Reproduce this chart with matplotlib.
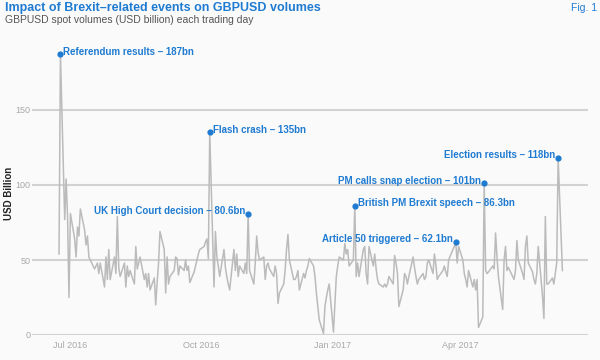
import pandas as pd
import matplotlib
matplotlib.use('Agg')
import matplotlib.pyplot as plt
import matplotlib.dates as mdates

FIRST_DAY = '2016-06-23'

# GBPUSD spot volume, USD bn, one value per trading day
volumes = [
    54, 187,
    # 27 Jun - 6 Oct 2016
    77, 104, 79, 25, 81, 64, 52, 72, 66, 84,
    70, 60, 66, 52, 50, 44, 46, 48, 41, 48,
    32, 52, 37, 57, 37, 52, 41, 79, 45, 39,
    48, 32, 46, 39, 43, 34, 59, 44, 48, 52,
    37, 41, 32, 41, 30, 38, 20, 35, 48, 69,
    57, 28, 52, 34, 39, 43, 52, 51, 40, 46,
    43, 50, 43, 46, 35, 42, 46, 50, 54, 57,
    59, 62, 64, 51,
    135,
    # 10 Oct - 2 Nov
    32, 69, 52, 46, 39, 57, 45, 39, 34, 30,
    57, 43, 54, 39, 46, 41, 48, 41,
    80.6,
    # 4 Nov - 16 Jan 2017
    43, 34, 48, 66, 55, 50, 52, 37, 46, 48,
    44, 39, 46, 41, 21, 28, 34, 43, 57, 67,
    50, 37, 37, 39, 43, 30, 41, 38, 43, 46,
    51, 46, 39, 28, 19, 10, 1, 19, 25, 30,
    34, 2, 21, 39, 46, 52, 50, 61, 54, 57,
    46, 50,
    86.3,
    # 18 Jan - 28 Mar
    39, 48, 39, 57, 59, 41, 34, 59, 46, 54,
    44, 37, 34, 32, 34, 32, 34, 39, 34, 53,
    48, 41, 19, 30, 41, 39, 34, 39, 52, 45,
    39, 34, 37, 41, 37, 39, 48, 50, 41, 54,
    47, 37, 39, 43, 46, 42, 39, 50, 57, 59,
    62.1,
    # 30 Mar - 17 Apr
    48, 59, 50, 41, 37, 32, 43, 32, 37, 30,
    37, 5, 12,
    101,
    # 19 Apr - 8 Jun
    43, 41, 42, 46, 44, 68, 52, 39, 17, 50,
    59, 43, 45, 39, 37, 43, 63, 50, 41, 37,
    59, 66, 48, 42, 37, 34, 41, 59, 26, 11,
    79, 34, 34, 38, 34, 41, 48,
    118,
    43,
]

event_names = ['Referendum results', 'Flash crash', 'UK High Court decision',
               'British PM Brexit speech', 'Article 50 triggered',
               'PM calls snap election', 'Election results']
event_dates = ['2016-06-24', '2016-10-07', '2016-11-03', '2017-01-17',
               '2017-03-29', '2017-04-18', '2017-06-09']
event_values = [187, 135, 80.6, 86.3, 62.1, 101, 118]

BLUE = '#1f7bd1'
BG = '#fafafa'


def plot():
    days = pd.bdate_range(FIRST_DAY, periods=len(volumes))

    fig = plt.figure(figsize=(6, 3.6), dpi=100, facecolor=BG)
    ax = fig.add_axes([32 / 600, 1 - 335 / 360, 556 / 600, 295 / 360])
    ax.set_facecolor(BG)

    ax.plot(days, volumes, color='#bbbbbb', lw=1.1, zorder=2)

    dates = pd.to_datetime(event_dates)
    ax.scatter(dates, event_values, s=12, color=BLUE, zorder=3,
               clip_on=False)
    left_side = ['UK High Court decision', 'Article 50 triggered',
                 'PM calls snap election', 'Election results']
    for name, d, v in zip(event_names, dates, event_values):
        text = f'{name} \u2013 {v:g}bn'
        if name in left_side:
            ax.annotate(text, (d, v), xytext=(-2, 2), textcoords='offset points',
                        ha='right', va='center', color=BLUE, fontsize=7,
                        fontweight='bold', family='Liberation Sans')
        else:
            ax.annotate(text, (d, v), xytext=(2, 2), textcoords='offset points',
                        ha='left', va='center', color=BLUE, fontsize=7,
                        fontweight='bold', family='Liberation Sans')

    ax.set_ylim(0, 295 / 1.5)
    ax.set_xlim(pd.Timestamp('2016-06-04'), pd.Timestamp('2017-06-30'))
    ax.set_yticks([0, 50, 100, 150])
    ax.xaxis.set_major_locator(mdates.MonthLocator(bymonth=[1, 4, 7, 10]))
    ax.xaxis.set_major_formatter(mdates.DateFormatter('%b %Y'))
    ax.grid(axis='y', color='#d2d2d2', lw=1.5, zorder=1)
    ax.tick_params(length=0, labelsize=6.5, labelcolor='#a8a8a8', pad=4)
    ax.tick_params(axis='y', pad=1)
    for lab in ax.get_xticklabels() + ax.get_yticklabels():
        lab.set_family('Liberation Sans')
    for s in ax.spines.values():
        s.set_visible(False)

    fig.text(9 / 600, 1 - 193 / 360, 'USD Billion', rotation=90,
             ha='center', va='center', fontsize=7, fontweight='bold',
             family='Liberation Sans', color='#222222')

    fig.text(5 / 600, 1 - 8 / 360, 'Impact of Brexit\u2013related events on GBPUSD volumes',
             ha='left', va='center', color=BLUE, fontsize=9, fontweight='bold',
             family='Liberation Sans')
    fig.text(5 / 600, 1 - 20 / 360, 'GBPUSD spot volumes (USD billion) each trading day',
             ha='left', va='center', color='#555555', fontsize=7.5,
             family='Liberation Sans')
    fig.text(597 / 600, 1 - 8 / 360, 'Fig. 1', ha='right', va='center',
             color=BLUE, fontsize=7.5, family='Liberation Sans')

    fig.savefig('out.png', dpi=100, facecolor=BG)


if __name__ == "__main__":
    plot()
